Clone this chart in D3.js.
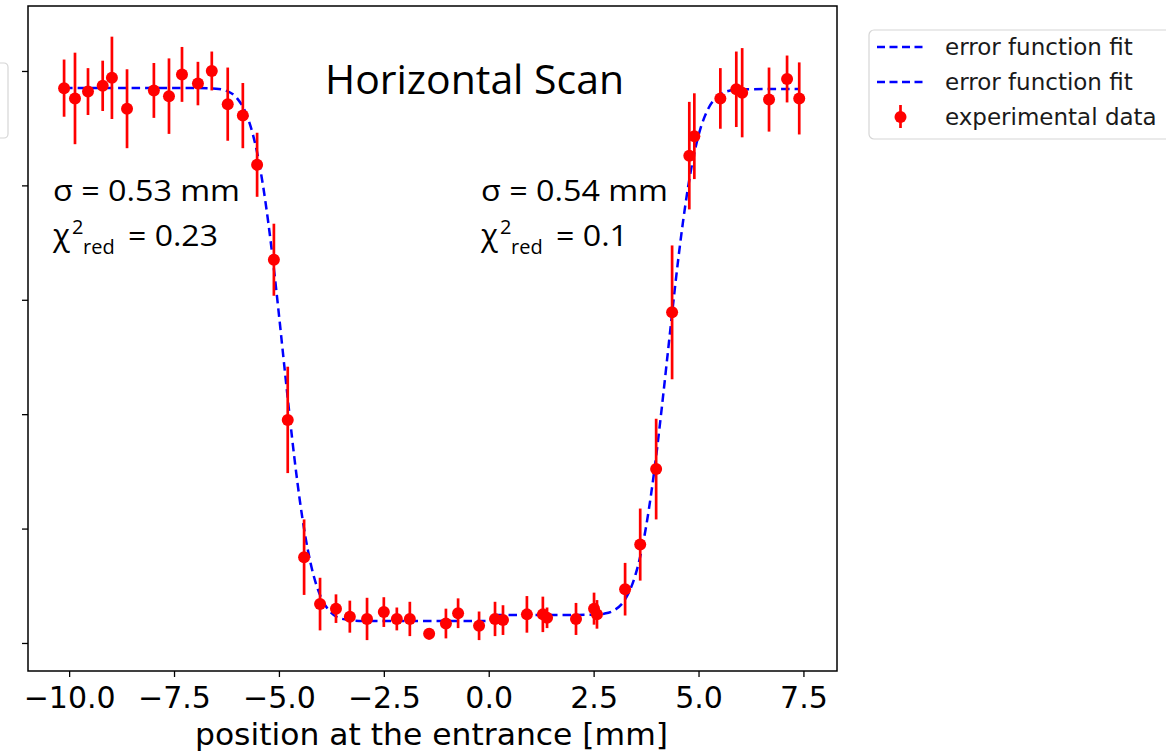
<!DOCTYPE html>
<html>
<head>
<meta charset="utf-8">
<script src="https://cdn.jsdelivr.net/npm/d3@7"></script>
<style>
  body { margin: 0; background: #fff; }
  svg { display: block; }
</style>
</head>
<body>
<div id="chart"></div>
<script>
// measured points (position in mm, signal in axis units, error bar half length)
const posX = [-10.12, -9.86, -9.55, -9.20, -8.98, -8.62, -7.98, -7.62, -7.31, -6.93, -6.60, -6.22,
              -5.86, -5.52, -5.12, -4.79, -4.40, -4.02, -3.64, -3.31, -2.90, -2.50, -2.19, -1.88,
              -1.42, -1.02, -0.73, -0.23, 0.15, 0.34, 0.91, 1.29, 1.39, 2.08, 2.51, 2.58,
              3.25, 3.61, 3.99, 4.37, 4.78, 4.90, 5.52, 5.90, 6.04, 6.68, 7.11, 7.40];
const signal = [4.85, 4.76, 4.82, 4.87, 4.94, 4.67, 4.83, 4.78, 4.97, 4.89, 5.00, 4.71,
                4.61, 4.18, 3.35, 1.95, 0.75, 0.34, 0.30, 0.23, 0.21, 0.27, 0.21, 0.21,
                0.08, 0.17, 0.26, 0.15, 0.21, 0.20, 0.25, 0.25, 0.22, 0.21, 0.30, 0.25,
                0.47, 0.86, 1.52, 2.89, 4.26, 4.43, 4.76, 4.84, 4.81, 4.75, 4.93, 4.76];
const sigErr = [0.25, 0.40, 0.205, 0.22, 0.36, 0.345, 0.24, 0.33, 0.24, 0.19, 0.17, 0.32,
                0.285, 0.28, 0.315, 0.465, 0.33, 0.23, 0.125, 0.14, 0.185, 0.13, 0.10, 0.15,
                0.05, 0.13, 0.13, 0.125, 0.15, 0.13, 0.16, 0.155, 0.09, 0.14, 0.14, 0.125,
                0.23, 0.315, 0.44, 0.585, 0.47, 0.375, 0.265, 0.33, 0.39, 0.28, 0.205, 0.315];

// fit curves
const fitLeftX = [-10.12, -7.0, -6.5, -6.25, -6.0, -5.75, -5.625, -5.5, -5.375, -5.25, -5.125, -5.0,
                  -4.875, -4.75, -4.625, -4.5, -4.375, -4.25, -4.125, -4.0, -3.75, -3.5, -3.0, 0.1];
const fitLeftY = [4.851, 4.851, 4.845, 4.826, 4.763, 4.598, 4.452, 4.251, 3.989, 3.665, 3.288, 2.871,
                  2.433, 2.003, 1.598, 1.241, 0.942, 0.705, 0.527, 0.401, 0.262, 0.211, 0.193, 0.192];
const fitRightX = [0.15, 2.0, 2.5, 2.75, 3.0, 3.25, 3.5, 3.625, 3.75, 3.875, 4.0, 4.125,
                   4.25, 4.375, 4.5, 4.625, 4.75, 4.875, 5.0, 5.25, 5.5, 5.75, 6.0, 7.4];
const fitRightY = [0.245, 0.245, 0.247, 0.256, 0.288, 0.381, 0.599, 0.779, 1.017, 1.314, 1.663, 2.058,
                   2.476, 2.898, 3.303, 3.668, 3.983, 4.239, 4.437, 4.683, 4.791, 4.829, 4.840, 4.843];

const xTicks = [-10, -7.5, -5, -2.5, 0, 2.5, 5, 7.5];
const yTicks = [0, 1, 2, 3, 4, 5];
const legendLabels = ["error function fit", "error function fit", "experimental data"];

(() => {

  const width = 1166, height = 753;
  const plot = {left: 28, top: 6, right: 837, bottom: 671};

  const svg = d3.select("#chart")
                .append("svg")
                .attr("width", width)
                .attr("height", height)
                .style("background", "#fff");

  const x = d3.scaleLinear()
              .domain([-10.98, 8.30])
              .range([plot.left, plot.right]);

  const y = d3.scaleLinear()
              .domain([-0.245, 5.568])
              .range([plot.bottom, plot.top]);

  // leftover legend box cut at the left edge
  svg.append("rect")
     .attr("x", -20).attr("y", 63)
     .attr("width", 28).attr("height", 75)
     .attr("rx", 4)
     .attr("fill", "#fff")
     .attr("stroke", "#d6d6d6")
     .attr("stroke-width", 1.2);

  // axes
  const axeX = d3.axisBottom(x)
                 .tickValues(xTicks)
                 .tickFormat(d3.format(".1f"))
                 .tickSize(6);
  const axeY = d3.axisLeft(y)
                 .tickValues(yTicks)
                 .tickFormat("")
                 .tickSize(6);

  const groupeX = svg.append("g")
                     .attr("transform", `translate(0,${plot.bottom})`)
                     .call(axeX);
  const groupeY = svg.append("g")
                     .attr("transform", `translate(${plot.left},0)`)
                     .call(axeY);

  groupeX.select(".domain").remove();
  groupeY.select(".domain").remove();
  svg.selectAll(".tick line").attr("stroke", "#000").attr("stroke-width", 1.3);

  groupeX.selectAll("text")
         .attr("y", 37)
         .attr("dy", null)
         .attr("fill", "#000")
         .style("font-family", "'DejaVu Sans', sans-serif")
         .style("font-size", "30px");

  // fit curves
  const line = d3.line()
                 .x(d => x(d[0]))
                 .y(d => y(d[1]))
                 .curve(d3.curveMonotoneX);

  [[fitLeftX, fitLeftY], [fitRightX, fitRightY]].forEach(([xs, ys]) => {
    svg.append("path")
       .datum(xs.map((v, i) => [v, ys[i]]))
       .attr("d", line)
       .attr("fill", "none")
       .attr("stroke", "#0000ff")
       .attr("stroke-width", 2.5)
       .attr("stroke-dasharray", "8.5,5");
  });

  // data with error bars
  const pts = posX.map((v, i) => ({x: v, y: signal[i], e: sigErr[i]}));

  svg.append("g")
     .selectAll("line")
     .data(pts)
     .enter()
     .append("line")
     .attr("x1", d => x(d.x)).attr("x2", d => x(d.x))
     .attr("y1", d => y(d.y - d.e)).attr("y2", d => y(d.y + d.e))
     .attr("stroke", "#ff0000")
     .attr("stroke-width", 2.7);

  svg.append("g")
     .selectAll("circle")
     .data(pts)
     .enter()
     .append("circle")
     .attr("cx", d => x(d.x))
     .attr("cy", d => y(d.y))
     .attr("r", 6)
     .attr("fill", "#ff0000");

  // frame
  svg.append("rect")
     .attr("x", plot.left).attr("y", plot.top)
     .attr("width", plot.right - plot.left)
     .attr("height", plot.bottom - plot.top)
     .attr("fill", "none")
     .attr("stroke", "#000")
     .attr("stroke-width", 1.5);

  // texts
  const sans = "'Open Sans', sans-serif";

  svg.append("text")
     .attr("x", 325).attr("y", 94)
     .attr("textLength", 299).attr("lengthAdjust", "spacingAndGlyphs")
     .style("font-family", sans).style("font-size", "40px")
     .text("Horizontal Scan");

  const notes = [
    {x: 53, sigma: "σ = 0.53 mm", chi: "= 0.23", chiLen: 90},
    {x: 481, sigma: "σ = 0.54 mm", chi: "= 0.1", chiLen: 72}
  ];

  notes.forEach(n => {
    svg.append("text")
       .attr("x", n.x).attr("y", 201)
       .attr("textLength", 187).attr("lengthAdjust", "spacingAndGlyphs")
       .style("font-family", sans).style("font-size", "30px")
       .text(n.sigma);
    svg.append("text")
       .attr("x", n.x).attr("y", 246)
       .style("font-family", sans).style("font-size", "31px")
       .text("χ");
    svg.append("text")
       .attr("x", n.x + 19).attr("y", 234)
       .style("font-family", sans).style("font-size", "20px")
       .text("2");
    svg.append("text")
       .attr("x", n.x + 30).attr("y", 254)
       .style("font-family", sans).style("font-size", "20px")
       .text("red");
    svg.append("text")
       .attr("x", n.x + 75).attr("y", 246)
       .attr("textLength", n.chiLen).attr("lengthAdjust", "spacingAndGlyphs")
       .style("font-family", sans).style("font-size", "30px")
       .text(n.chi);
  });

  svg.append("text")
     .attr("x", 431.5).attr("y", 745)
     .attr("text-anchor", "middle")
     .attr("textLength", 473).attr("lengthAdjust", "spacingAndGlyphs")
     .style("font-family", "'DejaVu Sans', sans-serif").style("font-size", "31px")
     .text("position at the entrance [mm]");

  // legend
  const legend = svg.append("g");
  legend.append("rect")
        .attr("x", 869).attr("y", 30)
        .attr("width", 330).attr("height", 109)
        .attr("rx", 5)
        .attr("fill", "#fff")
        .attr("stroke", "#d6d6d6")
        .attr("stroke-width", 1.2);

  const rowY = [47, 82, 117];

  legendLabels.forEach((lab, i) => {
    if (i < 2) {
      legend.append("line")
            .attr("x1", 877).attr("x2", 923)
            .attr("y1", rowY[i]).attr("y2", rowY[i])
            .attr("stroke", "#0000ff")
            .attr("stroke-width", 2.5)
            .attr("stroke-dasharray", "8,4.5");
    } else {
      legend.append("line")
            .attr("x1", 900.5).attr("x2", 900.5)
            .attr("y1", rowY[i] - 12).attr("y2", rowY[i] + 11)
            .attr("stroke", "#ff0000")
            .attr("stroke-width", 2.7);
      legend.append("circle")
            .attr("cx", 900.5).attr("cy", rowY[i])
            .attr("r", 6)
            .attr("fill", "#ff0000");
    }
    legend.append("text")
          .attr("x", 945).attr("y", rowY[i] + 8)
          .style("font-family", "'DejaVu Sans', sans-serif")
          .style("font-size", "23px")
          .attr("fill", "#1a1a1a")
          .text(lab);
  });

})();
</script>
</body>
</html>
